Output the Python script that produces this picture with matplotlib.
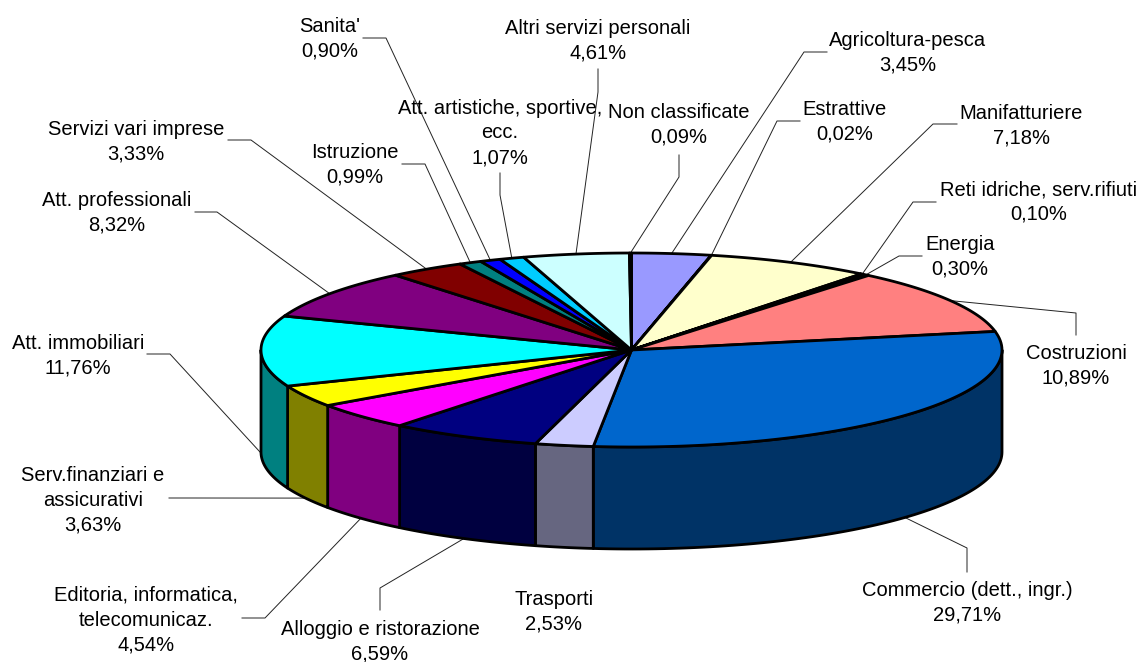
import matplotlib
matplotlib.use('Agg')

import numpy as np
import matplotlib.pyplot as plt
from matplotlib.colors import to_rgb
from matplotlib.patches import Polygon

plt.rcParams['font.family'] = ['Liberation Sans', 'DejaVu Sans']

categories = [
    "Agricoltura-pesca", "Estrattive", "Manifatturiere",
    "Reti idriche, serv.rifiuti", "Energia", "Costruzioni",
    "Commercio (dett., ingr.)", "Trasporti", "Alloggio e ristorazione",
    "Editoria, informatica,\ntelecomunicaz.", "Serv.finanziari e\nassicurativi",
    "Att. immobiliari", "Att. professionali", "Servizi vari imprese",
    "Istruzione", "Sanita'", "Att. artistiche, sportive,\necc.",
    "Altri servizi personali", "Non classificate",
]
shares = [
    3.45, 0.02, 7.18, 0.10, 0.30, 10.89, 29.71, 2.53, 6.59, 4.54,
    3.63, 11.76, 8.32, 3.33, 0.99, 0.90, 1.07, 4.61, 0.09,
]
colors = [
    "#9999FF", "#993366", "#FFFFCC", "#CCFFFF", "#660066", "#FF8080",
    "#0066CC", "#CCCCFF", "#000080", "#FF00FF", "#FFFF00", "#00FFFF",
    "#800080", "#800000", "#008080", "#0000FF", "#00CCFF", "#CCFFFF",
    "#FFFFCC",
]

# label centre, then where the leader leaves the label and where it bends
label_pos = [
    (908, 53), (845, 122), (1021, 126), (1039, 202), (960, 257), (1076, 366),
    (967, 603), (554, 612), (380, 642), (146, 620), (93, 500), (78, 356),
    (117, 213), (136, 142), (355, 165), (330, 39), (500, 133), (598, 41),
    (679, 125),
]
leader_start = [
    (827, 52), (800, 121), (957, 124), (936, 202), (922, 256), (1076, 335),
    (967, 572), None, (380, 610), (242, 618), (169, 498), (147, 354),
    (195, 212), (228, 140), (402, 164), (363, 38), (500, 173), (598, 69),
    (679, 155),
]
leader_bend = [
    (804, 52), (777, 121), (933, 124), (913, 202), (899, 256), (1076, 313),
    (967, 548), None, (380, 588), (265, 618), (192, 498), (170, 354),
    (217, 212), (251, 140), (425, 164), (386, 38), (500, 195), (598, 92),
    (679, 177),
]

cx, cy = 631.5, 350
rx, ry = 370.5, 97
depth = 102


def rim(angle):
    return cx + rx * np.sin(angle), cy - ry * np.cos(angle)


fig = plt.figure(figsize=(11.4, 6.62), dpi=100)
ax = fig.add_axes([0, 0, 1, 1])
ax.set_xlim(0, 1140)
ax.set_ylim(662, 0)
ax.axis("off")

edges = np.cumsum([0] + shares) / sum(shares) * 2 * np.pi

# side wall, only the front half of the cake can be seen
for i in range(len(shares)):
    a0 = max(edges[i], np.pi / 2)
    a1 = min(edges[i + 1], 3 * np.pi / 2)
    if a1 <= a0:
        continue
    t = np.linspace(a0, a1, 80)
    x, y = rim(t)
    pts = np.r_[np.c_[x, y], np.c_[x, y + depth][::-1]]
    dark = [c * 0.5 for c in to_rgb(colors[i])]
    ax.add_patch(Polygon(pts, closed=True, facecolor=dark, edgecolor="black",
                         linewidth=2.0, joinstyle="round", zorder=2))

# top face
for i in range(len(shares)):
    t = np.linspace(edges[i], edges[i + 1], 80)
    x, y = rim(t)
    pts = np.r_[[[cx, cy]], np.c_[x, y]]
    ax.add_patch(Polygon(pts, closed=True, facecolor=colors[i], edgecolor="black",
                         linewidth=2.0, joinstyle="round", zorder=3))

# leaders and labels
for i, name in enumerate(categories):
    text = name + "\n" + f"{shares[i]:.2f}".replace(".", ",") + "%"
    ax.text(label_pos[i][0], label_pos[i][1], text, ha="center", va="center",
            fontsize=14.5, color="black", linespacing=1.38, zorder=5)
    if leader_start[i] is None:
        continue
    mid = (edges[i] + edges[i + 1]) / 2
    ex, ey = rim(mid)
    if np.pi / 2 < mid < 3 * np.pi / 2:
        ey += depth
    ax.plot([leader_start[i][0], leader_bend[i][0], ex],
            [leader_start[i][1], leader_bend[i][1], ey],
            color="#222222", linewidth=0.7, zorder=1)

fig.savefig("out.png", dpi=100)
